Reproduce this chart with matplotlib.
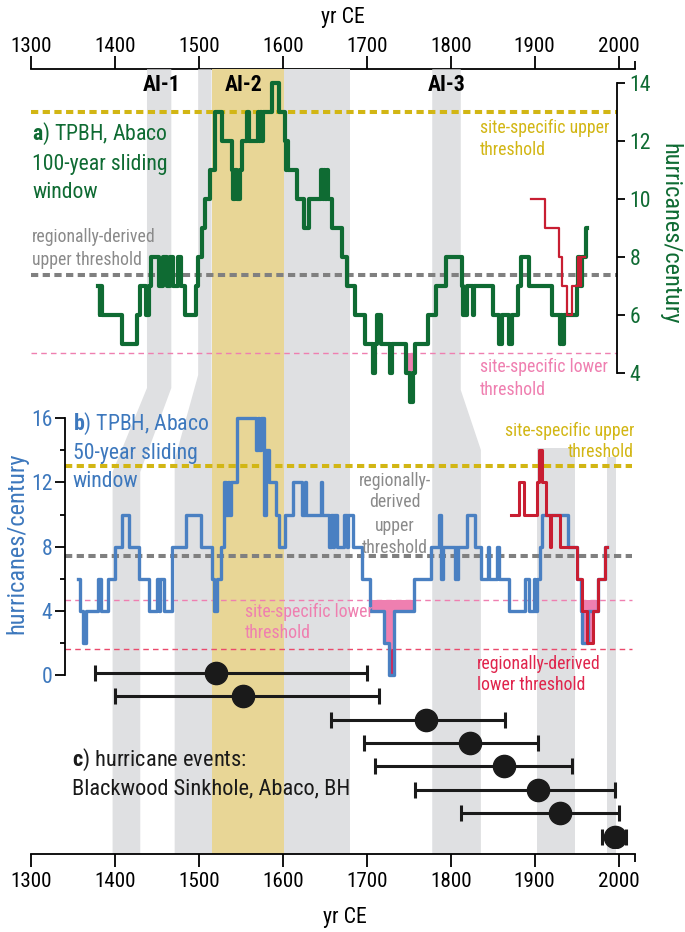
import matplotlib
matplotlib.use("Agg")
import matplotlib.pyplot as plt
import numpy as np
from matplotlib import font_manager
from matplotlib.patches import Polygon

# ---- data ----
# a) 100-year sliding window (green), change points and values
a_years = [1380, 1381.5, 1382.5, 1384, 1408, 1426, 1430, 1437, 1440, 1443, 1452, 1457,
           1462, 1465, 1469, 1475, 1478, 1483, 1496, 1499, 1503, 1507, 1513, 1519, 1527,
           1539, 1541, 1543, 1545, 1549, 1551, 1557, 1559, 1570, 1571.5, 1573, 1574.5,
           1576, 1587, 1595, 1602, 1604, 1605, 1606, 1617, 1625, 1631, 1646, 1647.5, 1649,
           1650.5, 1652, 1654, 1659, 1671, 1676, 1686, 1698, 1707, 1709.5, 1712, 1717,
           1728, 1730, 1747, 1751, 1754.5, 1757, 1773, 1782, 1794, 1813, 1814.5, 1819,
           1826, 1828, 1851, 1858, 1861, 1869, 1873, 1880, 1884, 1893, 1921, 1930,
           1931.5, 1932.5, 1934.5, 1950, 1952, 1954, 1956, 1961]
a_vals = [7, 6, 7, 6, 5, 6, 7, 6, 7, 8, 7, 8,
          7, 8, 7, 8, 7, 6, 7, 8, 9, 10, 11, 13, 12,
          11, 10, 11, 10, 11, 12, 13, 12, 13, 12, 13, 12,
          13, 14, 13, 12, 11, 12, 11, 10, 9, 10, 11, 10, 11,
          10, 11, 10, 9, 8, 7, 6, 5, 4, 5, 6, 5,
          4, 5, 4, 3, 4, 5, 6, 7, 8, 7, 6, 7,
          6, 7, 6, 5, 6, 5, 6, 7, 8, 7, 6, 5,
          6, 5, 6, 7, 8, 7, 8, 9]
a_end = 1963
a_red_years = [1896, 1912, 1928.5, 1932.5, 1939, 1944.5, 1952, 1954, 1955.5]
a_red_vals = [10, 9, 8, 7, 6, 7, 8, 7, 8]
a_red_end = 1960

# b) 50-year sliding window (blue)
b_years = [1356, 1358, 1362, 1365, 1380, 1383, 1391, 1400, 1408, 1416, 1428, 1440,
           1450, 1452, 1454, 1458, 1468, 1484, 1502, 1516, 1518, 1522, 1526, 1530,
           1532.5, 1534, 1536, 1538, 1545.5, 1568, 1570, 1572, 1574, 1577, 1580, 1583,
           1592, 1595, 1602, 1612, 1623, 1626, 1628, 1645, 1647, 1655, 1657, 1659.5,
           1661.5, 1664, 1673, 1676, 1677.5, 1683, 1694.5, 1704, 1721, 1726, 1733, 1756,
           1776, 1786, 1788, 1791, 1805, 1806, 1808, 1809, 1819, 1829, 1836, 1844,
           1846, 1855, 1857, 1869, 1889, 1893, 1899, 1901, 1903, 1906, 1909, 1940,
           1950, 1955, 1957, 1964, 1975, 1984]
b_vals = [6, 4, 2, 4, 6, 4, 6, 8, 10, 8, 6, 4,
          6, 4, 6, 4, 8, 10, 8, 6, 4, 6, 8, 12,
          10, 12, 10, 12, 16, 14, 16, 14, 16, 10, 14, 12,
          10, 8, 10, 12, 10, 12, 10, 12, 10, 8, 10, 8,
          10, 8, 10, 8, 10, 8, 6, 4, 2, 0, 4, 6,
          8, 10, 6, 8, 6, 8, 6, 8, 10, 8, 6, 8,
          6, 8, 6, 4, 6, 4, 6, 4, 6, 8, 10, 8,
          6, 4, 2, 4, 6, 8]
b_end = 1986
b_red_years = [1872, 1881, 1887, 1903, 1905, 1908.5, 1914, 1918, 1919.5, 1930, 1950,
               1956, 1963, 1970, 1975, 1984]
b_red_vals = [10, 12, 10, 12, 14, 12, 10, 8, 10, 8, 6, 4, 2, 4, 6, 8]
b_red_end = 1986
b_fill_periods = [(1700, 1760), (1950, 1980)]

# thresholds (hurricanes/century)
site_upper = 13.0
regional_upper = 7.4
site_lower = 4.7
regional_lower = 1.6

# c) hurricane events: best age and age range (yr CE)
ev_mid = [1520, 1552, 1771, 1823, 1863, 1904, 1930, 1996]
ev_lo = [1376, 1400, 1657, 1697, 1710, 1758, 1812, 1980]
ev_hi = [1700, 1714, 1865, 1904, 1944, 1996, 2000, 2009]

# shaded intervals (yr CE)
ai_names = ["AI-1", "AI-2", "AI-3"]
ai_centres = [1456, 1553, 1795]
band_top = [(1438, 1467), (1499, 1515), (1778, 1812)]
band_bottom = [(1397, 1430), (1471, 1516), (1778, 1836)]
ai2_span = (1515.5, 1601.5)
gray_full = (1601.5, 1680)
gray_lower = [(1903, 1948), (1986, 1997)]

# ---- style ----
installed = {f.name for f in font_manager.fontManager.ttflist}
FONT, SCALE = "Liberation Sans", 0.85
for name, sc in [("Liberation Sans Narrow", 1.0), ("Roboto Condensed", 0.95),
                 ("Open Sans Condensed", 1.0), ("Arial Narrow", 1.0)]:
    if name in installed:
        FONT, SCALE = name, sc
        break
plt.rcParams["font.family"] = [FONT, "DejaVu Sans"]
plt.rcParams["mathtext.fontset"] = "custom"
plt.rcParams["mathtext.rm"] = FONT
plt.rcParams["mathtext.bf"] = FONT + ":bold"


def fs(v):
    return v * SCALE


GREEN = "#0f6b33"
BLUE = "#4a80c2"
BLUE_TXT = "#3d78bd"
RED = "#c81e32"
PINK = "#ef7fb0"
CRIMSON = "#dc1f4f"
YELLOW = "#d2b614"
GRAY_LINE = "#808080"
GRAY_TXT = "#8a8a8a"
RED_TXT = "#e0244c"
RED_DASH = "#ea4a6c"
BAND = "#dfe0e2"
AI2_COL = "#e8d696"

W, H = 685, 932
X0, PXY = 31.2, 0.839
XMIN, XMAX = 1300, 2020
TOP, BOT = 69.3, 854

fig = plt.figure(figsize=(W / 100, H / 100), dpi=100)


def box(top_px, bot_px):
    return [X0 / W, 1 - bot_px / H, (XMAX - XMIN) * PXY / W, (bot_px - top_px) / H]


def put(x, y, s, **kw):
    kw.setdefault("va", "baseline")
    return fig.text(x / W, 1 - y / H, s, **kw)


def steps(years, vals, end):
    return np.append(years, end).astype(float), np.append(vals, vals[-1]).astype(float)


# background axes: shaded intervals + time axes
ax_bg = fig.add_axes(box(TOP, BOT))
ax_bg.set_xlim(XMIN, XMAX)
ax_bg.set_ylim(BOT, TOP)
ax_bg.set_yticks([])
for s in ("left", "right", "top"):
    ax_bg.spines[s].set_visible(False)
ax_bg.spines["bottom"].set_linewidth(1.3)
ax_bg.set_xticks(range(1300, 2001, 100))
ax_bg.set_xticks([2020], minor=True)
ax_bg.tick_params(axis="x", which="both", direction="out", width=1.3, labelsize=fs(16))
ax_bg.tick_params(axis="x", which="major", length=9.5, pad=3.8)
ax_bg.tick_params(axis="x", which="minor", length=6)

ax_top = ax_bg.secondary_xaxis("top")
ax_top.spines["top"].set_linewidth(1.3)
ax_top.set_xticks(range(1300, 2001, 100))
ax_top.set_xticks([2020], minor=True)
ax_top.tick_params(axis="x", which="both", direction="out", width=1.3, labelsize=fs(16))
ax_top.tick_params(axis="x", which="major", length=9.5, pad=0)
ax_top.tick_params(axis="x", which="minor", length=6)

slants = [(388, 472), (375, 460), (390, 450)]
for (lt, rt), (lb, rb), (y1, y2) in zip(band_top, band_bottom, slants):
    ax_bg.add_patch(Polygon([(lt, TOP), (rt, TOP), (rt, y1), (rb, y2), (rb, BOT),
                             (lb, BOT), (lb, y2), (lt, y1)], closed=True, fc=BAND, ec="none"))
ax_bg.axvspan(*ai2_span, color=AI2_COL, lw=0)
ax_bg.axvspan(*gray_full, color=BAND, lw=0)
for (l, r), y0 in zip(gray_lower, [448, 457]):
    ax_bg.add_patch(Polygon([(l, y0), (r, y0), (r, BOT), (l, BOT)], closed=True, fc=BAND, ec="none"))

# c) events
ax_c = fig.add_axes(box(661, 848.2))
ax_c.set_xlim(XMIN, XMAX)
ax_c.set_ylim(7.5, -0.5)
ax_c.axis("off")
mid = np.array(ev_mid)
ax_c.errorbar(mid, np.arange(len(mid)), xerr=[mid - np.array(ev_lo), np.array(ev_hi) - mid],
              fmt="o", color="#1a1a1a", ms=16, lw=2.2, capsize=6, capthick=2.2)

# b) 50-year window
ax_b = fig.add_axes(box(402.3, 691))
ax_b.patch.set_visible(False)
ax_b.set_xlim(XMIN, XMAX)
ax_b.set_ylim(-1, 17)
for s in ("top", "right", "bottom"):
    ax_b.spines[s].set_visible(False)
ax_b.spines["left"].set_position(("data", 1340))
ax_b.spines["left"].set_bounds(0, 16)
ax_b.spines["left"].set_linewidth(1.3)
ax_b.set_xticks([])
ax_b.set_yticks(range(0, 17, 4))
ax_b.set_yticks(range(2, 17, 4), minor=True)
ax_b.tick_params(axis="y", which="both", direction="out", width=1.3, labelsize=fs(16.5),
                 labelcolor=BLUE_TXT, pad=2)
ax_b.tick_params(axis="y", which="major", length=7)
ax_b.tick_params(axis="y", which="minor", length=3.5)

bx, by = steps(b_years, b_vals, b_end)
rx, ry = steps(b_red_years, b_red_vals, b_red_end)
for xs, ys in ((bx, by), (rx, ry)):
    inside = np.zeros(len(xs), bool)
    for lo, hi in b_fill_periods:
        inside |= (xs >= lo) & (xs <= hi)
    ax_b.fill_between(xs, np.where(inside, np.minimum(ys, site_lower), site_lower), site_lower,
                      step="post", color=PINK, lw=0)
    ax_b.fill_between(xs, np.minimum(ys, regional_lower), regional_lower,
                      step="post", color=CRIMSON, lw=0)
ax_b.hlines(site_upper, 1340, 2016, color=YELLOW, lw=2.9, linestyle=(0, (1.8, 1.1)))
ax_b.hlines(regional_upper, 1340, 2016, color=GRAY_LINE, lw=2.9, linestyle=(0, (1.8, 1.1)))
ax_b.hlines(site_lower, 1340, 2016, color=PINK, lw=1, linestyle=(0, (4, 3)))
ax_b.hlines(regional_lower, 1340, 2016, color=RED_DASH, lw=1, linestyle=(0, (4, 3)))
ax_b.plot(bx, by, drawstyle="steps-post", color=BLUE, lw=2.4)
ax_b.plot(rx, ry, drawstyle="steps-post", color=RED, lw=2.2)

# a) 100-year window
ax_a = fig.add_axes(box(68.8, 416.8))
ax_a.patch.set_visible(False)
ax_a.set_xlim(XMIN, XMAX)
ax_a.set_ylim(2.5, 14.5)
for s in ("top", "left", "bottom"):
    ax_a.spines[s].set_visible(False)
ax_a.spines["right"].set_position(("data", 1998))
ax_a.spines["right"].set_bounds(4, 14)
ax_a.spines["right"].set_linewidth(1.3)
ax_a.set_xticks([])
ax_a.yaxis.tick_right()
ax_a.set_yticks(range(4, 15, 2))
ax_a.tick_params(axis="y", direction="out", length=6, width=1.3, labelsize=fs(16.5),
                 labelcolor=GREEN, pad=3)

gx, gy = steps(a_years, a_vals, a_end)
ax_a.fill_between(gx, np.minimum(gy, site_lower), site_lower, step="post", color=PINK, lw=0)
ax_a.hlines(site_upper, 1300, 1998, color=YELLOW, lw=2.9, linestyle=(0, (1.8, 1.1)))
ax_a.hlines(regional_upper, 1300, 1998, color=GRAY_LINE, lw=2.9, linestyle=(0, (1.8, 1.1)))
ax_a.hlines(site_lower, 1300, 1998, color=PINK, lw=1, linestyle=(0, (4, 3)))
ax_a.plot(gx, gy, drawstyle="steps-post", color=GREEN, lw=3)
ax_a.plot(*steps(a_red_years, a_red_vals, a_red_end), drawstyle="steps-post", color=RED, lw=1.6)

# ---- labels ----
for name, c in zip(ai_names, ai_centres):
    put(X0 + (c - XMIN) * PXY, 90.7, name, ha="center", weight="bold", size=fs(16.5))

put(32, 140, r"$\mathbf{a}$) TPBH, Abaco", color=GREEN, size=fs(16.5))
put(32, 170, "100-year sliding", color=GREEN, size=fs(16.5))
put(32, 198, "window", color=GREEN, size=fs(16.5))
put(32, 241.7, "regionally-derived", color=GRAY_TXT, size=fs(13.5))
put(32, 265, "upper threshold", color=GRAY_TXT, size=fs(13.5))
put(480, 133, "site-specific upper", color=YELLOW, size=fs(13.5))
put(480, 155, "threshold", color=YELLOW, size=fs(13.5))
put(480, 371.7, "site-specific lower", color=PINK, size=fs(13.5))
put(480, 395, "threshold", color=PINK, size=fs(13.5))
put(670, 234, "hurricanes/century", rotation=270, ha="center", va="center", color=GREEN,
    size=fs(18.5))

put(72.7, 430, r"$\mathbf{b}$) TPBH, Abaco", color=BLUE_TXT, size=fs(16.5))
put(72.7, 459, "50-year sliding", color=BLUE_TXT, size=fs(16.5))
put(72.7, 487, "window", color=BLUE_TXT, size=fs(16.5))
for s, y in zip(["regionally-", "derived", "upper", "threshold"], [486, 507, 531, 553]):
    put(395, y, s, ha="center", color=GRAY_TXT, size=fs(13.5))
put(634, 436, "site-specific upper", ha="right", color=YELLOW, size=fs(13.5))
put(634, 457, "threshold", ha="right", color=YELLOW, size=fs(13.5))
put(245, 617, "site-specific lower", color=PINK, size=fs(13.5))
put(245, 638, "threshold", color=PINK, size=fs(13.5))
put(476.7, 669, "regionally-derived", color=RED_TXT, size=fs(13.5))
put(476.7, 690, "lower threshold", color=RED_TXT, size=fs(13.5))
put(17, 543, "hurricanes/century", rotation=90, ha="center", va="center", color=BLUE_TXT,
    size=fs(18.5))

put(72, 766, r"$\mathbf{c}$) hurricane events:", color="#1a1a1a", size=fs(17))
put(72, 794, "Blackwood Sinkhole, Abaco, BH", color="#1a1a1a", size=fs(17))

put(343, 23, "yr CE", ha="center", size=fs(16.5))
put(345, 923, "yr CE", ha="center", size=fs(16.5))

fig.savefig("out.png", dpi=100)
